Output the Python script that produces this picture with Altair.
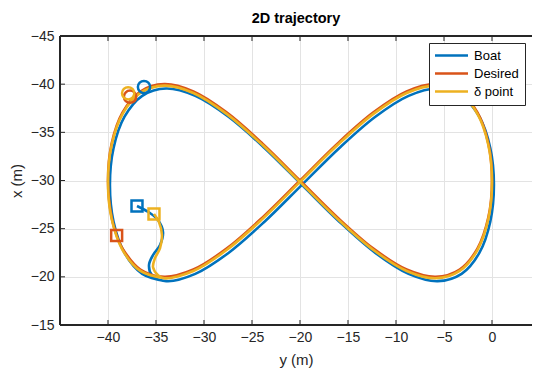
import altair as alt
import pandas as pd

series_names = ["Boat", "Desired", "δ point"]
series_colors = ["#0072BD", "#D95319", "#EDB120"]

# Boat trajectory (horizontal = y [m], vertical = x [m])
boat_y = [-36.98, -35.63, -34.79, -34.27, -34.58, -35.31, -35.73, -35.42,
          -33.94, -30.91, -27.45, -23.70, -19.80, -15.90, -12.15, -8.69, -5.66,
          -3.17, -1.32, -0.18, 0.20, -0.18, -1.32, -3.17, -5.66, -8.69, -12.15,
          -15.90, -19.80, -23.70, -27.45, -30.91, -33.94, -36.43, -38.28, -39.42,
          -39.80, -39.42, -38.28, -36.43, -33.94]
boat_x = [-27.35, -26.62, -25.89, -24.65, -23.30, -22.26, -21.22, -20.18,
          -19.55, -20.31, -22.48, -25.72, -29.55, -33.38, -36.62, -38.79, -39.55,
          -38.79, -36.62, -33.38, -29.55, -25.72, -22.48, -20.31, -19.55, -20.31,
          -22.48, -25.72, -29.55, -33.38, -36.62, -38.79, -39.55, -38.79, -36.62,
          -33.38, -29.55, -25.72, -22.48, -20.31, -19.55]

# Desired trajectory
desired_y = [-39.10, -38.48, -36.63, -34.14, -31.11, -27.65, -23.90, -20.00,
             -16.10, -12.35, -8.89, -5.86, -3.37, -1.52, -0.38, 0.00, -0.38,
             -1.52, -3.37, -5.86, -8.89, -12.35, -16.10, -20.00, -23.90, -27.65,
             -31.11, -34.14, -36.63, -38.48, -39.62, -40.00, -39.62, -39.10]
desired_x = [-24.30, -22.93, -20.76, -20.00, -20.76, -22.93, -26.17, -30.00,
             -33.83, -37.07, -39.24, -40.00, -39.24, -37.07, -33.83, -30.00, -26.17,
             -22.93, -20.76, -20.00, -20.76, -22.93, -26.17, -30.00, -33.83, -37.07,
             -39.24, -40.00, -39.24, -37.07, -33.83, -30.00, -26.17, -24.30]

# delta point trajectory
delta_y = [-35.21, -34.69, -34.38, -34.58, -35.10, -35.31, -34.79,
           -34.14, -31.11, -27.65, -23.90, -20.00, -16.10, -12.35, -8.89, -5.86,
           -3.37, -1.52, -0.38, 0.00, -0.38, -1.52, -3.37, -5.86, -8.89, -12.35,
           -16.10, -20.00, -23.90, -27.65, -31.11, -34.14, -36.63, -38.48, -39.62,
           -40.00, -39.62, -38.48, -36.63, -34.14]
delta_x = [-26.52, -25.69, -24.34, -22.99, -21.95, -21.01, -20.18,
           -19.85, -20.61, -22.78, -26.02, -29.85, -33.68, -36.92, -39.09, -39.85,
           -39.09, -36.92, -33.68, -29.85, -26.02, -22.78, -20.61, -19.85, -20.61,
           -22.78, -26.02, -29.85, -33.68, -36.92, -39.09, -39.85, -39.09, -36.92,
           -33.68, -29.85, -26.02, -22.78, -20.61, -19.85]

# start (square) and end (circle) markers
start_y = [-36.98, -39.10, -35.21]
start_x = [-27.35, -24.30, -26.52]
end_y = [-36.25, -37.70, -37.90]
end_x = [-39.70, -38.70, -39.05]

x_ticks = [-40, -35, -30, -25, -20, -15, -10, -5, 0]
y_ticks = [-45, -40, -35, -30, -25, -20, -15]

# visible part of the axes: y from -45 to ~4.2 (the figure is cropped at the right)
x_domain = [-45, 4.1667]
y_domain = [-45, -15]

W, H = 472, 289
FONT = "Liberation Sans"
AX = "#262626"


def frame(name, ys, xs):
    return pd.DataFrame({"series": name, "ypos": ys, "xpos": xs, "i": list(range(len(ys)))})


lines_df = pd.concat([frame("Boat", boat_y, boat_x),
                      frame("Desired", desired_y, desired_x),
                      frame("δ point", delta_y, delta_x)], ignore_index=True)
start_df = pd.DataFrame({"series": series_names, "ypos": start_y, "xpos": start_x})
end_df = pd.DataFrame({"series": series_names, "ypos": end_y, "xpos": end_x})
xt_df = pd.DataFrame({"ypos": x_ticks})
yt_df = pd.DataFrame({"xpos": y_ticks})

x_scale = alt.Scale(domain=x_domain, nice=False, zero=False)
y_scale = alt.Scale(domain=y_domain, reverse=True, nice=False, zero=False)
x_axis = alt.Axis(values=x_ticks, title="y (m)", grid=True, gridColor="#e3e3e3",
                  ticks=False, domain=False, labelFontSize=14, titleFontSize=15,
                  titleFontWeight="normal", labelColor=AX, titleColor=AX,
                  labelPadding=5, titlePadding=8, labelFont=FONT, titleFont=FONT)
y_axis = alt.Axis(values=y_ticks, title="x (m)", grid=True, gridColor="#e3e3e3",
                  ticks=False, domain=False, labelFontSize=14, titleFontSize=15,
                  titleFontWeight="normal", labelColor=AX, titleColor=AX,
                  labelPadding=6, titlePadding=6, labelFont=FONT, titleFont=FONT)

X = alt.X("ypos:Q", scale=x_scale, axis=x_axis)
Y = alt.Y("xpos:Q", scale=y_scale, axis=y_axis)

color_scale = alt.Scale(domain=series_names, range=series_colors)

lines = alt.Chart(lines_df).mark_line(strokeWidth=2.6, interpolate="catmull-rom").encode(
    x=X, y=Y,
    color=alt.Color("series:N", scale=color_scale, sort=series_names,
                    legend=alt.Legend(title=None, orient="none", legendX=369, legendY=7,
                                      symbolType="M-3.3,0H3.3", symbolSize=100,
                                      symbolStrokeWidth=2.6, symbolOffset=10,
                                      labelFontSize=13, labelFont=FONT, labelColor="#000",
                                      strokeColor=AX, fillColor="white",
                                      padding=6, rowPadding=4, labelOffset=16,
                                      cornerRadius=0)),
    order=alt.Order("i:Q"),
)

starts = alt.Chart(start_df).mark_point(shape="square", filled=False, size=120,
                                         strokeWidth=2.5, opacity=1).encode(
    x=X, y=Y, color=alt.Color("series:N", scale=color_scale, legend=None))
ends = alt.Chart(end_df).mark_point(shape="circle", filled=False, size=150,
                                     strokeWidth=2.5, opacity=1).encode(
    x=X, y=Y, color=alt.Color("series:N", scale=color_scale, legend=None))

tick_style = dict(color=AX, strokeWidth=1)
bottom_ticks = alt.Chart(xt_df).mark_rule(**tick_style).encode(
    x=X, y=alt.value(H), y2=alt.value(H - 5))
top_ticks = alt.Chart(xt_df).mark_rule(**tick_style).encode(
    x=X, y=alt.value(0), y2=alt.value(5))
left_ticks = alt.Chart(yt_df).mark_rule(**tick_style).encode(
    y=Y, x=alt.value(0), x2=alt.value(5))

# box lines (top, bottom, left; the right side lies beyond the crop)
frame_top = alt.Chart(xt_df).mark_rule(**tick_style).encode(
    x=alt.value(0), x2=alt.value(W), y=alt.value(0))
frame_bottom = alt.Chart(xt_df).mark_rule(**tick_style).encode(
    x=alt.value(0), x2=alt.value(W), y=alt.value(H))
frame_left = alt.Chart(xt_df).mark_rule(**tick_style).encode(
    x=alt.value(0), y=alt.value(0), y2=alt.value(H))

chart = alt.layer(lines, starts, ends, bottom_ticks, top_ticks, left_ticks,
                  frame_top, frame_bottom, frame_left).resolve_scale(
    color="independent"
).properties(
    width=W, height=H,
    title=alt.TitleParams("2D trajectory", fontSize=14.5, fontWeight="bold", font=FONT,
                          color="#000", offset=3),
    autosize=alt.AutoSizeParams(type="none"),
    padding={"left": 52, "top": 28, "right": 0, "bottom": 50},
).configure(font=FONT).configure_view(stroke=None)

chart.save("out.html", embed_options={"renderer": "svg", "actions": False})
